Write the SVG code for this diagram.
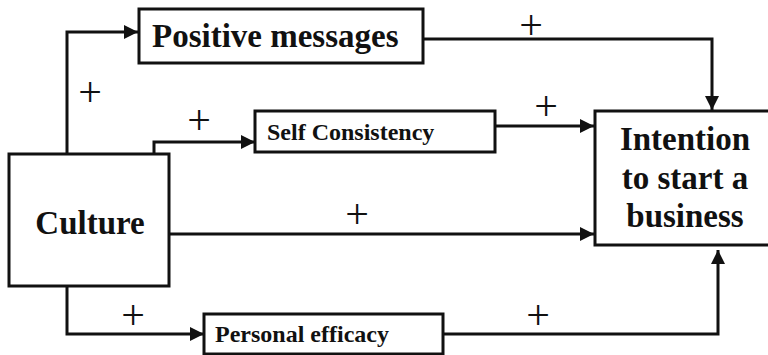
<svg xmlns="http://www.w3.org/2000/svg" width="768" height="355" viewBox="0 0 768 355">
<style>
.box{fill:#fff;stroke:#111;stroke-width:3}
.lbl{font-family:"Liberation Serif","Times New Roman",serif;font-weight:bold;fill:#111}
.big{font-size:33px}
.small{font-size:24px}
.plus{font-family:"Liberation Serif","Times New Roman",serif;font-size:42px;fill:#111;text-anchor:middle}
.conn{fill:none;stroke:#111;stroke-width:3}
</style>
<defs>
<marker id="ah" markerUnits="userSpaceOnUse" markerWidth="14" markerHeight="14" viewBox="0 0 14 14" refX="14" refY="7" orient="auto">
<path d="M0,0 L14,7 L0,14 Z" fill="#111"/>
</marker>
</defs>
<g id="connectors">
<path class="conn" d="M67,154 V32 H138" marker-end="url(#ah)"/>
<path class="conn" d="M154,154 V142 H255" marker-end="url(#ah)"/>
<path class="conn" d="M169,234 H594" marker-end="url(#ah)"/>
<path class="conn" d="M67,286 V334 H204" marker-end="url(#ah)"/>
<path class="conn" d="M423,39 H712 V110" marker-end="url(#ah)"/>
<path class="conn" d="M495,126 H594" marker-end="url(#ah)"/>
<path class="conn" d="M443,334 H718 V250" marker-end="url(#ah)"/>
<text class="plus" x="90" y="106">+</text>
<text class="plus" x="199" y="134">+</text>
<text class="plus" x="531" y="39">+</text>
<text class="plus" x="546" y="120">+</text>
<text class="plus" x="357" y="228">+</text>
<text class="plus" x="133" y="329">+</text>
<text class="plus" x="538" y="329">+</text>
</g>
<g id="positive">
<rect class="box" x="139" y="9" width="284" height="54"/>
<text class="lbl big" x="152" y="47">Positive messages</text>
</g>
<g id="self">
<rect class="box" x="255" y="111" width="240" height="41"/>
<text class="lbl small" x="267" y="140">Self Consistency</text>
</g>
<g id="culture">
<rect class="box" x="9" y="154" width="160" height="132"/>
<text class="lbl big" x="90" y="234" text-anchor="middle">Culture</text>
</g>
<g id="intention">
<rect class="box" x="595" y="111" width="175" height="134"/>
<text class="lbl big" x="685" y="150" text-anchor="middle">Intention</text>
<text class="lbl big" x="685" y="189" text-anchor="middle">to start a</text>
<text class="lbl big" x="685" y="227" text-anchor="middle">business</text>
</g>
<g id="personal">
<rect class="box" x="204" y="314" width="239" height="40"/>
<text class="lbl small" x="215" y="342">Personal efficacy</text>
</g>
</svg>
